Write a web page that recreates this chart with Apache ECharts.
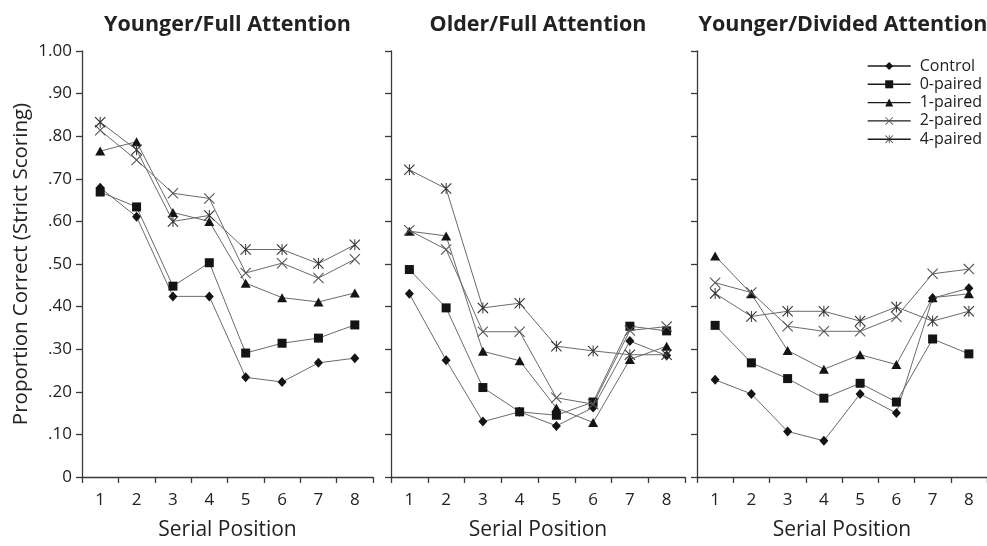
<!DOCTYPE html>
<html>
<head>
<meta charset="utf-8">
<script src="https://cdn.jsdelivr.net/npm/echarts@6/dist/echarts.min.js"></script>
<style>html,body{margin:0;background:#fff}#container{width:987px;height:546px}</style>
</head>
<body>
<div id="container"></div>
<script>
var positions = ['1', '2', '3', '4', '5', '6', '7', '8'];
var seriesNames = ['Control', '0-paired', '1-paired', '2-paired', '4-paired'];
var panelTitles = ['Younger/Full Attention', 'Older/Full Attention', 'Younger/Divided Attention'];

// Younger / Full Attention
var youngFullControl = [0.679, 0.611, 0.424, 0.424, 0.234, 0.223, 0.268, 0.279];
var youngFull0 = [0.669, 0.634, 0.448, 0.503, 0.291, 0.314, 0.326, 0.357];
var youngFull1 = [0.765, 0.787, 0.621, 0.600, 0.455, 0.421, 0.411, 0.432];
var youngFull2 = [0.814, 0.744, 0.666, 0.654, 0.479, 0.502, 0.467, 0.511];
var youngFull4 = [0.833, 0.768, 0.600, 0.614, 0.534, 0.534, 0.501, 0.545];

// Older / Full Attention
var oldFullControl = [0.430, 0.274, 0.130, 0.153, 0.120, 0.163, 0.319, 0.285];
var oldFull0 = [0.487, 0.397, 0.210, 0.153, 0.145, 0.176, 0.354, 0.343];
var oldFull1 = [0.577, 0.566, 0.295, 0.273, 0.162, 0.128, 0.276, 0.307];
var oldFull2 = [0.579, 0.534, 0.341, 0.341, 0.186, 0.171, 0.344, 0.353];
var oldFull4 = [0.721, 0.677, 0.397, 0.408, 0.307, 0.296, 0.287, 0.287];

// Younger / Divided Attention
var youngDivControl = [0.228, 0.195, 0.107, 0.085, 0.195, 0.150, 0.420, 0.443];
var youngDiv0 = [0.356, 0.268, 0.231, 0.185, 0.220, 0.176, 0.324, 0.289];
var youngDiv1 = [0.519, 0.430, 0.297, 0.253, 0.287, 0.264, 0.421, 0.430];
var youngDiv2 = [0.456, 0.433, 0.354, 0.342, 0.342, 0.376, 0.477, 0.488];
var youngDiv4 = [0.431, 0.377, 0.389, 0.389, 0.366, 0.399, 0.366, 0.389];

var panels = [
  [youngFullControl, youngFull0, youngFull1, youngFull2, youngFull4],
  [oldFullControl, oldFull0, oldFull1, oldFull2, oldFull4],
  [youngDivControl, youngDiv0, youngDiv1, youngDiv2, youngDiv4]
];

var crossPath = 'path://M0,0.7 L0.7,0 L10,9.3 L9.3,10 Z M9.3,0 L10,0.7 L0.7,10 L0,9.3 Z';
var starPath = 'path://M0,0.7 L0.7,0 L10,9.3 L9.3,10 Z M9.3,0 L10,0.7 L0.7,10 L0,9.3 Z M4.55,0 L5.45,0 L5.45,10 L4.55,10 Z';
var symbols = ['diamond', 'rect', 'triangle', crossPath, starPath];
var symbolSizes = [[9, 10], 9, [10, 9], 11, 11];
var markColors = ['#141414', '#141414', '#141414', '#555', '#333'];

var font = '"Open Sans", sans-serif';
var axisColor = '#3a3a3a';
var gridLefts = [82, 391, 697];
var gridWidths = [291, 294, 292];

var myChart = echarts.init(document.getElementById('container'));

var grids = [], xAxes = [], yAxes = [], titles = [], series = [];
gridLefts.forEach(function (left, i) {
  grids.push({ left: left, top: 51, width: gridWidths[i], height: 434 });
  titles.push({
    text: panelTitles[i],
    left: left + gridWidths[i] / 2,
    top: 14,
    textAlign: 'center',
    padding: 0,
    textStyle: { fontFamily: font, fontWeight: 'bold', fontSize: 21.5, color: '#222' }
  });
  xAxes.push({
    type: 'category',
    gridIndex: i,
    data: positions,
    boundaryGap: true,
    name: 'Serial Position',
    nameLocation: 'middle',
    nameGap: 43,
    nameTextStyle: { fontFamily: font, fontSize: 21, color: '#222' },
    axisLine: { lineStyle: { color: axisColor, width: 1.3 } },
    axisTick: { show: true, length: 6, lineStyle: { color: axisColor, width: 1.3 } },
    axisLabel: { fontFamily: font, fontSize: 17, color: '#222', margin: 15 },
    splitLine: { show: false }
  });
  yAxes.push({
    type: 'value',
    gridIndex: i,
    min: 0,
    max: 1,
    interval: 0.1,
    name: i === 0 ? 'Proportion Correct (Strict Scoring)' : '',
    nameLocation: 'middle',
    nameGap: 50,
    nameTextStyle: { fontFamily: font, fontSize: 20.5, color: '#222' },
    axisLine: { show: true, lineStyle: { color: axisColor, width: 1.3 } },
    axisTick: { show: true, length: 6, lineStyle: { color: axisColor, width: 1.3 } },
    axisLabel: {
      show: i === 0,
      fontFamily: font,
      fontSize: 17,
      color: '#222',
      margin: 10,
      formatter: function (v) {
        if (v === 0) return '0';
        if (v >= 0.999) return '1.00';
        return v.toFixed(2).replace('0.', '.');
      }
    },
    splitLine: { show: false }
  });
  panels[i].forEach(function (values, k) {
    series.push({
      name: seriesNames[k],
      type: 'line',
      xAxisIndex: i,
      yAxisIndex: i,
      data: values,
      symbol: symbols[k],
      symbolSize: symbolSizes[k],
      showAllSymbol: true,
      lineStyle: { color: '#6a6a6a', width: 1 },
      itemStyle: { color: markColors[k], borderWidth: 0 },
      emphasis: { disabled: true },
      z: 2 + k
    });
  });
});

option = {
  animation: false,
  backgroundColor: '#fff',
  title: titles,
  grid: grids,
  xAxis: xAxes,
  yAxis: yAxes,
  legend: {
    data: seriesNames,
    orient: 'vertical',
    left: 867,
    top: 58,
    padding: 0,
    itemWidth: 43,
    itemHeight: 10,
    itemGap: 2.3,
    lineStyle: { color: '#1a1a1a', width: 1.4 },
    textStyle: { fontFamily: font, fontSize: 16, color: '#222', lineHeight: 16, padding: [0, 0, 0, 4] }
  },
  series: series
};

myChart.setOption(option);
</script>
</body>
</html>
